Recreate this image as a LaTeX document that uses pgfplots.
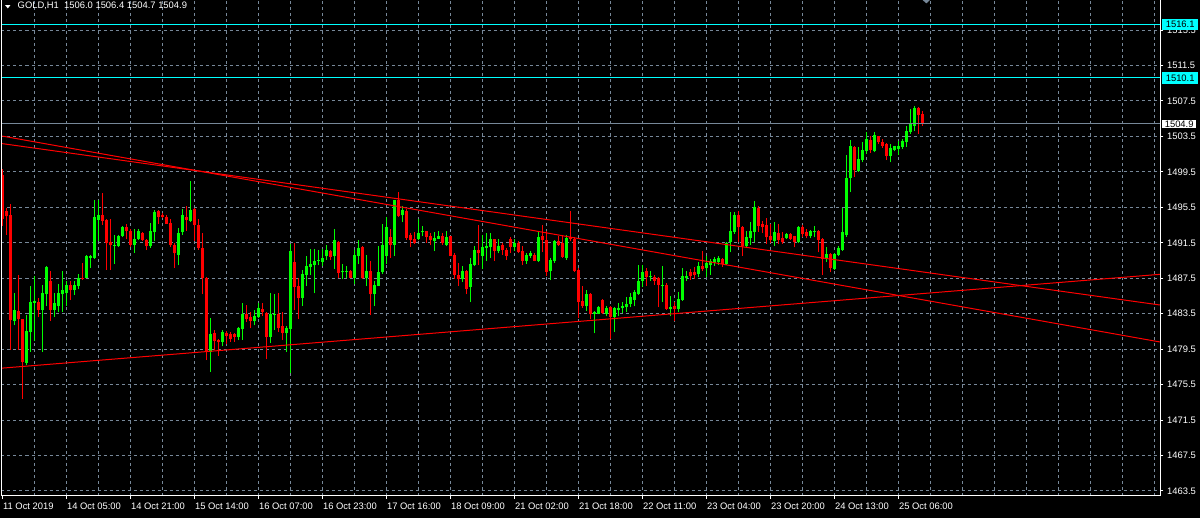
\documentclass[border=0pt]{standalone}
\usepackage{pgfplots}
\usepackage{pgfplotstable}
\pgfplotsset{compat=1.18}
\usepackage{fontspec}
\setmainfont{Liberation Sans}
\definecolor{gridc}{RGB}{119,136,153}
\definecolor{bull}{RGB}{0,255,0}
\definecolor{bear}{RGB}{255,0,0}
\definecolor{aqua}{RGB}{0,255,255}

\pgfplotstableread{
i O H L C
3 1482.66 1485.85 1482.17 1483.97
6 1477.96 1483.3 1477.66 1481.53
7 1481.42 1486.68 1479.2 1484.84
8 1484.76 1487.73 1480.4 1484.87
10 1483.97 1486.79 1479.2 1485.78
11 1485.67 1488.86 1484.34 1488.79
13 1483.97 1485.85 1483.1 1484.65
14 1484.42 1486.9 1483.67 1485.78
15 1485.67 1488.3 1483.67 1486.16
16 1485.85 1487.17 1484.42 1486.72
18 1486.16 1487.17 1485.59 1486.72
19 1486.6 1488.03 1486.23 1487.54
21 1487.5 1490.17 1487.5 1489.99
22 1489.76 1490.17 1488.67 1489.99
23 1489.8 1496.3 1489.7 1494.39
24 1494.12 1496.3 1491.68 1494.58
28 1491.15 1492.43 1489.16 1491.23
29 1491.12 1492.43 1491.04 1492.32
30 1492.24 1493.37 1492.13 1493.26
33 1491.3 1493.0 1490.36 1491.87
34 1491.87 1493.0 1491.79 1492.81
37 1491.12 1493.75 1490.93 1492.81
38 1492.7 1495.18 1491.68 1494.95
44 1490.17 1493.18 1488.94 1492.62
45 1492.7 1495.33 1492.43 1494.58
47 1493.94 1498.45 1493.83 1495.25
52 1479.2 1482.96 1476.94 1481.2
55 1480.33 1481.65 1479.84 1481.46
59 1480.89 1481.95 1480.51 1481.84
60 1481.72 1484.74 1480.55 1483.46
63 1482.62 1483.93 1482.17 1483.26
64 1483.1 1484.65 1483.03 1484.16
67 1480.89 1485.82 1480.14 1483.41
68 1483.33 1485.72 1481.65 1483.45
71 1481.27 1482.1 1479.2 1481.84
72 1481.72 1491.37 1476.85 1490.6
75 1485.29 1488.41 1484.42 1488.03
76 1487.92 1489.99 1486.6 1488.86
77 1488.79 1490.82 1487.81 1489.16
78 1488.94 1490.82 1485.78 1489.42
79 1489.42 1490.74 1488.94 1489.5
80 1489.31 1490.82 1488.86 1489.8
81 1489.99 1491.3 1489.54 1490.66
83 1489.99 1493.0 1488.56 1491.76
85 1488.18 1489.16 1487.36 1488.3
86 1488.22 1488.86 1487.54 1488.33
88 1487.47 1490.66 1486.9 1490.17
89 1490.06 1491.76 1489.05 1490.93
91 1487.47 1490.17 1486.6 1488.37
93 1485.67 1487.24 1484.34 1486.72
94 1486.68 1491.12 1486.6 1488.22
95 1488.18 1493.67 1488.03 1491.3
96 1489.99 1494.42 1489.05 1493.26
98 1491.3 1496.38 1490.06 1496.3
100 1494.58 1495.7 1493.83 1495.25
104 1491.94 1494.13 1491.76 1492.62
105 1492.66 1493.37 1492.24 1492.73
108 1491.68 1492.7 1490.55 1492.06
109 1491.94 1492.81 1491.87 1492.32
111 1491.3 1492.88 1491.12 1492.13
115 1487.36 1488.86 1487.1 1488.37
117 1486.49 1489.8 1484.8 1489.05
118 1488.94 1491.19 1488.86 1490.66
120 1490.06 1492.43 1488.56 1491.0
121 1490.93 1492.62 1489.42 1491.12
122 1491.04 1492.55 1489.8 1491.87
124 1490.55 1491.87 1490.29 1491.12
128 1491.04 1491.94 1490.55 1491.49
131 1489.5 1490.29 1489.16 1490.17
132 1489.99 1490.55 1489.8 1490.36
134 1489.42 1492.81 1489.31 1492.13
137 1488.3 1489.8 1487.28 1489.61
138 1489.42 1491.79 1489.24 1491.68
141 1489.8 1492.43 1489.61 1492.06
146 1484.35 1486.12 1483.79 1485.67
148 1483.48 1483.78 1481.27 1483.67
149 1483.48 1484.35 1483.41 1484.24
151 1483.47 1484.33 1483.2 1484.11
153 1483.09 1484.22 1481.4 1484.11
154 1483.97 1484.65 1483.2 1484.16
155 1484.11 1484.8 1483.58 1484.33
156 1484.22 1485.35 1483.73 1484.6
157 1484.6 1485.8 1484.22 1485.35
158 1485.09 1486.2 1484.33 1485.99
159 1485.73 1489.0 1485.61 1487.23
160 1487.23 1489.0 1486.48 1488.24
162 1487.61 1488.36 1487.23 1487.8
165 1486.67 1488.85 1484.86 1486.74
167 1484.03 1485.46 1483.2 1484.22
169 1484.03 1485.99 1483.66 1485.16
170 1485.09 1488.62 1484.97 1487.72
171 1487.49 1488.36 1487.23 1487.8
174 1487.98 1489.37 1487.61 1488.85
176 1488.62 1489.97 1487.61 1489.22
177 1488.99 1489.67 1487.91 1489.48
178 1489.22 1489.86 1488.92 1489.67
179 1489.3 1489.97 1488.99 1489.75
181 1489.11 1491.55 1488.99 1491.48
182 1491.55 1494.94 1490.42 1492.87
183 1492.76 1494.94 1492.49 1494.64
186 1491.18 1492.87 1490.99 1492.12
187 1492.0 1493.88 1491.25 1492.87
188 1492.76 1496.25 1491.55 1495.5
193 1491.74 1493.81 1491.18 1492.76
196 1492.0 1492.61 1491.93 1492.49
199 1491.55 1493.36 1491.48 1493.24
202 1492.3 1492.98 1492.0 1492.87
203 1492.68 1493.43 1492.12 1492.76
206 1489.67 1490.99 1489.37 1490.24
208 1488.55 1490.35 1488.47 1490.24
209 1490.12 1491.18 1489.97 1490.88
210 1490.73 1495.39 1490.61 1492.68
211 1492.43 1501.45 1492.16 1498.82
212 1498.82 1503.06 1497.2 1502.46
214 1499.57 1502.31 1499.46 1500.96
215 1500.81 1502.84 1500.58 1501.94
216 1501.82 1503.97 1501.56 1503.21
218 1501.82 1503.97 1501.71 1503.7
222 1501.33 1502.69 1500.58 1502.2
223 1502.01 1502.46 1501.82 1502.39
224 1502.09 1502.95 1501.45 1502.46
225 1502.31 1503.21 1502.09 1502.95
226 1502.84 1504.72 1502.31 1504.08
227 1503.97 1506.64 1503.82 1504.94
228 1504.72 1506.9 1504.08 1506.71
}\upbars

\pgfplotstableread{
i O H L C
0 1499.2 1499.8 1493.4 1494.2
1 1495.06 1495.44 1492.43 1494.5
2 1494.58 1495.82 1479.46 1482.77
4 1483.79 1487.92 1479.46 1482.85
5 1482.85 1482.95 1473.9 1478.03
9 1484.87 1485.29 1483.1 1483.97
12 1487.24 1488.3 1482.66 1483.97
17 1486.72 1487.17 1485.03 1486.16
20 1487.58 1489.23 1487.3 1487.45
25 1494.58 1497.06 1493.56 1493.94
26 1494.05 1494.13 1488.48 1491.49
27 1491.57 1494.13 1488.48 1491.23
31 1493.26 1493.64 1491.87 1492.81
32 1492.81 1493.0 1491.04 1491.3
35 1492.55 1492.7 1491.68 1491.79
36 1491.79 1491.87 1490.66 1491.12
39 1495.06 1495.25 1493.67 1494.42
40 1494.58 1494.88 1494.31 1494.39
41 1494.42 1494.58 1493.64 1493.67
42 1493.75 1494.13 1491.04 1491.3
43 1491.3 1491.49 1488.67 1490.29
46 1494.42 1495.7 1492.81 1494.05
48 1495.33 1495.4 1491.68 1493.45
49 1493.45 1494.2 1490.74 1490.93
50 1490.93 1492.62 1485.67 1487.54
51 1487.54 1487.6 1478.26 1479.2
53 1481.34 1481.65 1479.46 1480.44
54 1480.51 1480.59 1478.78 1480.29
56 1481.34 1481.57 1480.03 1480.96
57 1481.2 1481.46 1480.33 1480.7
58 1481.2 1481.34 1480.33 1480.89
61 1483.46 1484.48 1482.59 1482.85
62 1483.08 1483.72 1481.84 1482.7
65 1484.05 1484.74 1483.22 1483.67
66 1483.6 1483.67 1478.34 1480.89
69 1483.46 1485.82 1481.46 1481.84
70 1482.1 1483.72 1480.51 1481.27
73 1489.37 1491.45 1483.97 1486.54
74 1486.61 1487.54 1482.85 1485.22
82 1490.55 1490.74 1489.61 1489.91
84 1491.6 1491.68 1487.47 1488.11
87 1488.3 1488.41 1487.47 1487.54
90 1491.0 1491.12 1487.43 1487.47
92 1488.37 1489.5 1483.33 1485.67
97 1492.17 1493.0 1489.8 1491.3
99 1496.27 1497.2 1494.42 1494.5
101 1495.14 1495.33 1491.79 1492.06
102 1492.43 1492.55 1491.04 1491.79
103 1491.87 1492.7 1491.41 1491.49
106 1492.81 1492.88 1491.49 1492.17
107 1492.24 1492.55 1491.23 1491.79
110 1492.32 1492.55 1491.3 1491.49
112 1492.24 1492.32 1489.99 1490.06
113 1490.17 1490.29 1487.43 1487.85
114 1487.92 1489.24 1486.6 1487.36
116 1488.37 1488.48 1485.67 1486.3
119 1490.66 1493.45 1488.94 1490.29
123 1491.87 1491.94 1489.42 1490.55
125 1491.3 1491.49 1490.17 1490.66
126 1490.74 1490.93 1489.61 1490.06
127 1491.87 1492.17 1490.36 1491.04
129 1491.49 1491.68 1490.29 1490.44
130 1490.55 1491.19 1488.94 1489.42
133 1490.17 1490.29 1489.42 1489.5
135 1492.24 1493.56 1490.44 1491.79
136 1491.79 1492.81 1487.73 1488.22
139 1491.68 1492.24 1491.19 1491.3
140 1491.49 1492.43 1489.8 1489.91
142 1492.17 1495.14 1491.68 1491.87
143 1491.94 1492.17 1488.18 1488.3
144 1488.41 1488.67 1483.03 1484.8
145 1484.91 1486.6 1484.16 1484.35
147 1485.67 1485.85 1482.85 1483.41
150 1485.09 1485.16 1483.47 1483.58
152 1484.22 1484.33 1480.68 1483.09
161 1488.36 1488.62 1486.67 1487.61
163 1487.61 1487.87 1486.74 1487.23
164 1487.49 1487.61 1484.22 1486.74
166 1486.74 1486.97 1483.96 1484.03
168 1484.33 1484.8 1482.73 1484.03
172 1488.17 1488.55 1487.34 1487.72
173 1488.24 1488.74 1487.42 1487.87
175 1488.85 1490.61 1488.36 1488.55
180 1489.67 1489.75 1488.74 1489.11
184 1494.64 1495.12 1491.55 1493.24
185 1493.24 1493.43 1490.05 1491.18
189 1495.39 1495.61 1492.76 1493.43
190 1493.62 1494.0 1492.61 1493.24
191 1493.51 1494.26 1491.37 1492.12
192 1492.3 1493.62 1491.48 1491.85
194 1492.61 1493.62 1491.37 1491.85
195 1492.0 1492.68 1491.37 1491.55
197 1492.49 1492.61 1491.85 1491.93
198 1492.23 1492.3 1490.99 1491.55
200 1493.24 1493.51 1492.12 1492.49
201 1492.76 1493.06 1492.0 1492.3
204 1492.87 1492.95 1490.42 1491.85
205 1491.93 1492.0 1487.87 1489.67
207 1490.24 1490.35 1488.17 1488.62
213 1502.31 1502.46 1498.93 1499.68
217 1503.14 1503.59 1501.64 1501.94
219 1503.52 1503.59 1502.69 1502.84
220 1502.84 1503.21 1502.2 1502.46
221 1502.69 1502.76 1500.81 1501.26
229 1506.71 1506.79 1503.82 1505.96
230 1506.0 1506.4 1504.7 1504.9
}\dnbars

\begin{document}
\begin{tikzpicture}
\useasboundingbox (0,0) rectangle (600pt,259pt);
\fill[black] (0,0) rectangle (600pt,259pt);
\begin{axis}[
  name=ax,
  at={(0.75pt,11pt)}, anchor=south west,
  scale only axis, width=579.4pt, height=248pt,
  xmin=-0.2, xmax=289.5,
  ymin=1462.936, ymax=1518.885,
  clip mode=individual,
  axis line style={draw=none},
  tick align=outside,
  xtick pos=bottom, ytick pos=right, yticklabel pos=right,
  xtick={0,16,...,224},
  xticklabels={11 Oct 2019,14 Oct 05:00,14 Oct 21:00,15 Oct 14:00,16 Oct 07:00,16 Oct 23:00,17 Oct 16:00,18 Oct 09:00,21 Oct 02:00,21 Oct 18:00,22 Oct 11:00,23 Oct 04:00,23 Oct 20:00,24 Oct 13:00,25 Oct 06:00},
  minor xtick={8,16,...,288},
  ytick={1463.5,1467.5,1471.5,1475.5,1479.5,1483.5,1487.5,1491.5,1495.5,1499.5,1503.5,1507.5,1511.5,1515.5},
  yticklabels={1463.5,1467.5,1471.5,1475.5,1479.5,1483.5,1487.5,1491.5,1495.5,1499.5,1503.5,1507.5,1511.5,1515.5},
  xminorgrids=true, ymajorgrids=true, xmajorgrids=false,
  major grid style={gridc, line width=0.5pt, dash pattern=on 1.5pt off 1.5pt},
  minor grid style={gridc, line width=0.5pt, dash pattern=on 1.5pt off 1.5pt},
  minor tick length=0pt,
  major tick length=1.5pt,
  tick style={white, line width=0.5pt},
  tick label style={font=\fontsize{4.7pt}{5pt}\selectfont, text=white},
  xticklabel style={anchor=north west, inner sep=0pt, xshift=0.2pt, yshift=-1.6pt},
  yticklabel style={anchor=west, inner sep=0pt, xshift=1.7pt},
]
% wicks
\addplot[forget plot, draw=none, mark=none,
  error bars/.cd, y dir=plus, y explicit, error mark=none,
  error bar style={bull, line width=0.5pt, solid}]
  table[x=i, y=L, y error expr=\thisrow{H}-\thisrow{L}] {\upbars};
\addplot[forget plot, draw=none, mark=none,
  error bars/.cd, y dir=plus, y explicit, error mark=none,
  error bar style={bear, line width=0.5pt, solid}]
  table[x=i, y=L, y error expr=\thisrow{H}-\thisrow{L}] {\dnbars};
% bodies
\addplot[forget plot, draw=none, mark=none,
  error bars/.cd, y dir=plus, y explicit, error mark=none,
  error bar style={bull, line width=1.5pt, solid}]
  table[x=i, y=O, y error expr={max(\thisrow{C}-\thisrow{O},0.12)}] {\upbars};
\addplot[forget plot, draw=none, mark=none,
  error bars/.cd, y dir=plus, y explicit, error mark=none,
  error bar style={bear, line width=1.5pt, solid}]
  table[x=i, y=C, y error expr={max(\thisrow{O}-\thisrow{C},0.12)}] {\dnbars};
% horizontal levels
\addplot[aqua, line width=0.5pt, mark=none] coordinates {(-1,1516.1) (290,1516.1)};
\addplot[aqua, line width=0.5pt, mark=none] coordinates {(-1,1510.1) (290,1510.1)};
\addplot[gridc, line width=0.5pt, mark=none] coordinates {(-1,1504.9) (290,1504.9)};
% trend lines
\addplot[bear, line width=0.5pt, mark=none] coordinates {(-0.575,1503.58) (289.42,1480.31)};
\addplot[bear, line width=0.5pt, mark=none] coordinates {(-0.575,1502.72) (289.42,1484.48)};
\addplot[bear, line width=0.5pt, mark=none] coordinates {(-0.575,1477.34) (289.42,1487.94)};
\coordinate (l1) at (axis cs:289.5,1516.1);
\coordinate (l2) at (axis cs:289.5,1510.1);
\coordinate (l3) at (axis cs:289.5,1504.9);
\end{axis}
\draw[white, line width=0.5pt] (ax.north west) -- (ax.south west) -- (ax.south east) -- (ax.north east);
\node[fill=aqua, text=black, anchor=west, inner xsep=1.7pt, inner ysep=0pt, minimum height=5.7pt, font=\fontsize{4.7pt}{5pt}\selectfont] at ([xshift=0.85pt]l1) {1516.1};
\node[fill=aqua, text=black, anchor=west, inner xsep=1.7pt, inner ysep=0pt, minimum height=5.7pt, font=\fontsize{4.7pt}{5pt}\selectfont] at ([xshift=0.85pt]l2) {1510.1};
\node[fill=white, text=black, anchor=west, inner xsep=1.2pt, inner ysep=0pt, minimum height=4.4pt, font=\fontsize{4.7pt}{5pt}\selectfont] at ([xshift=0.85pt]l3) {1504.9};
% header
\fill[white] (2.6pt,256.4pt) -- (5.2pt,256.4pt) -- (3.9pt,254.8pt) -- cycle;
\node[anchor=west, inner sep=0pt, text=white, font=\fontsize{4.7pt}{5pt}\selectfont] at (8.65pt,255.85pt) {GOLD,H1~~1506.0 1506.4 1504.7 1504.9};
\fill[gridc] (461.3pt,259pt) -- (465pt,259pt) -- (463.15pt,257.3pt) -- cycle;
\end{tikzpicture}
\end{document}
